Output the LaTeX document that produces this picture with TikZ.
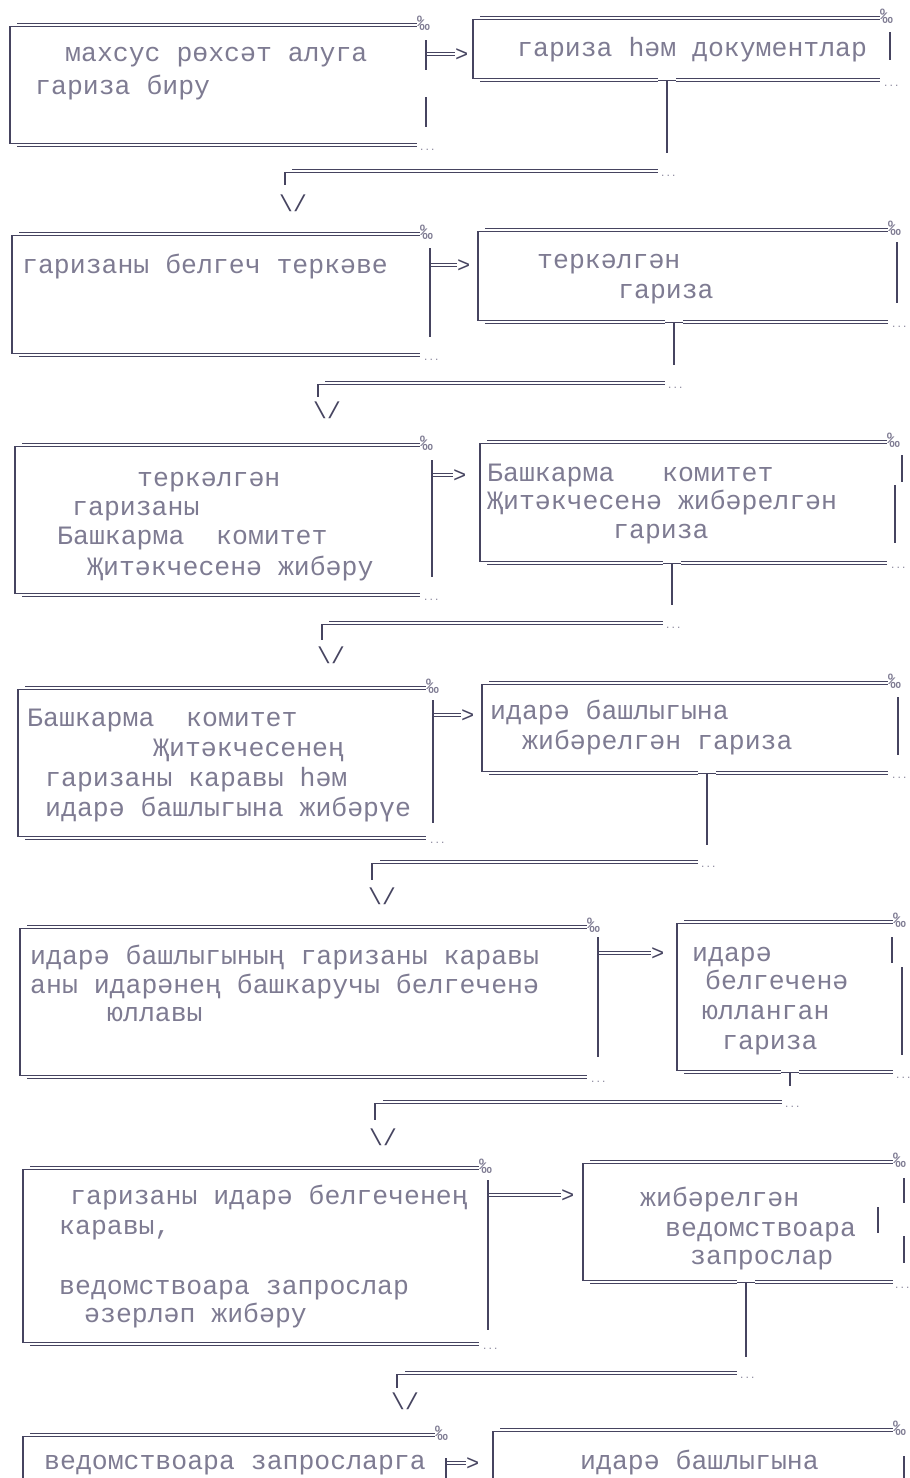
\documentclass[tikz,border=0pt]{standalone}
\usepackage{fontspec}
\newfontfamily\tatmono{Liberation Mono}
\definecolor{lc}{RGB}{70,68,96}
\definecolor{tc}{RGB}{126,123,146}

\begin{document}
\begin{tikzpicture}[x=1pt, y=-1pt,
    twin/.style={draw=lc, line width=1.1pt, double=white, double distance=1.4pt},
    bar/.style={draw=lc, line width=1.2pt},
    txt/.style={anchor=base west, inner sep=0pt, text=tc, font=\tatmono\fontsize{26.5}{30}\selectfont},
    pm/.style={anchor=base west, inner sep=0pt, text=tc, font=\tatmono\fontsize{21}{21}\selectfont},
    dots/.style={anchor=base west, inner sep=0pt, text=tc, font=\tatmono\fontsize{9}{9}\selectfont},
    gt/.style={anchor=base west, inner sep=0pt, text=lc, font=\tatmono\fontsize{22}{22}\selectfont},
    down/.style={anchor=base, inner sep=0pt, text=lc, font=\tatmono\fontsize{23}{23}\selectfont}]

    \useasboundingbox (0,0) rectangle (910,1478);

    % row 1
    \draw[bar] (18,26.5) -| (10,143.5) -- (18,143.5);
    \draw[twin] (17,25) -- (417,25);
    \draw[twin] (17,145) -- (417,145);
    \node[pm] (pmL1) at (417,30) {‰};
    \node[dots] (dtL1) at (419,150) {...};
    \node[txt] (L1a) at (65,61) {махсус рөхсәт алуга};
    \node[txt] (L1b) at (35,94) {гариза биру};
    \draw[bar] (426,40) -- (426,70);
    \draw[bar] (426,97) -- (426,127);
    \coordinate (a1) at (427,54);
    \node[gt] (g1) at (455,61) {>};
    \draw[twin] (a1) -- (a1 -| g1.west);

    \draw[bar] (481,19.5) -| (473,78.5) -- (481,78.5);
    \draw[twin] (480,18) -- (880,18);
    \draw[twin] (480,80) -- (658,80) (676,80) -- (880,80);
    \draw[bar] (658,80.5) -- (676,80.5);
    \node[pm] (pmR1) at (880,23) {‰};
    \node[dots] (dtR1) at (883,86) {...};
    \draw[bar] (890,32) -- (890,60);
    \node[txt] (R1a) at (517,56) {гариза һәм документлар};

    \coordinate (t1) at (667,80.5);
    \coordinate (e1) at (667,153);
    \draw[bar] (t1) -- (e1);
    \coordinate (c1) at (285,185);
    \draw[twin] (292,171) -- (658,171);
    \draw[bar] (292,172.5) -| (c1);
    \node[dots] (dtC1) at (660,176) {...};
    \node[down] (v1) at (293,211) {\textbackslash/};

    % row 2
    \draw[bar] (20,235.5) -| (12,353.5) -- (20,353.5);
    \draw[twin] (19,234) -- (420,234);
    \draw[twin] (19,355) -- (420,355);
    \node[pm] (pmL2) at (420,239) {‰};
    \node[dots] (dtL2) at (423,360) {...};
    \node[txt] (L2a) at (22,273) {гаризаны белгеч теркәве};
    \draw[bar] (430,248) -- (430,337);
    \coordinate (a2) at (431,265);
    \node[gt] (g2) at (457,272) {>};
    \draw[twin] (a2) -- (a2 -| g2.west);

    \draw[bar] (486,231.5) -| (478,320.5) -- (486,320.5);
    \draw[twin] (485,230) -- (888,230);
    \draw[twin] (485,322) -- (665,322) (683,322) -- (888,322);
    \draw[bar] (665,322.5) -- (683,322.5);
    \node[pm] (pmR2) at (888,235) {‰};
    \node[dots] (dtR2) at (891,327) {...};
    \draw[bar] (897,242) -- (897,303);
    \node[txt] (R2a) at (537,268) {теркәлгән};
    \node[txt] (R2b) at (618,298) {гариза};

    \coordinate (t2) at (674,322.5);
    \coordinate (e2) at (674,365);
    \draw[bar] (t2) -- (e2);
    \coordinate (c2) at (318,397);
    \draw[twin] (325,383) -- (665,383);
    \draw[bar] (325,384.5) -| (c2);
    \node[dots] (dtC2) at (667,388) {...};
    \node[down] (v2) at (327,418) {\textbackslash/};

    % row 3
    \draw[bar] (23,446.5) -| (15,593.5) -- (23,593.5);
    \draw[twin] (22,445) -- (420,445);
    \draw[twin] (22,595) -- (420,595);
    \node[pm] (pmL3) at (420,450) {‰};
    \node[dots] (dtL3) at (423,600) {...};
    \node[txt] (L3a) at (137,486) {теркәлгән};
    \node[txt] (L3b) at (72,515) {гаризаны};
    \node[txt] (L3c) at (57,544) {Башкарма\ \ комитет};
    \node[txt] (L3d) at (87,575) {Җитәкчесенә жибәру};
    \draw[bar] (432,460) -- (432,577);
    \coordinate (a3) at (433,475);
    \node[gt] (g3) at (453,482) {>};
    \draw[twin] (a3) -- (a3 -| g3.west);

    \draw[bar] (488,443.5) -| (480,561.5) -- (488,561.5);
    \draw[twin] (487,442) -- (887,442);
    \draw[twin] (487,563) -- (663,563) (681,563) -- (887,563);
    \draw[bar] (663,563.5) -- (681,563.5);
    \node[pm] (pmR3) at (887,447) {‰};
    \node[dots] (dtR3) at (890,568) {...};
    \draw[bar] (902,455) -- (902,482);
    \draw[bar] (895,485) -- (895,543);
    \node[txt] (R3a) at (487,481) {Башкарма\ \ \ комитет};
    \node[txt] (R3b) at (487,509) {Җитәкчесенә жибәрелгән};
    \node[txt] (R3c) at (613,538) {гариза};

    \coordinate (t3) at (672,563.5);
    \coordinate (e3) at (672,605);
    \draw[bar] (t3) -- (e3);
    \coordinate (c3) at (322,640);
    \draw[twin] (329,623) -- (663,623);
    \draw[bar] (329,624.5) -| (c3);
    \node[dots] (dtC3) at (665,628) {...};
    \node[down] (v3) at (331,663) {\textbackslash/};

    % row 4
    \draw[bar] (26,689.5) -| (18,836.5) -- (26,836.5);
    \draw[twin] (25,688) -- (426,688);
    \draw[twin] (25,838) -- (426,838);
    \node[pm] (pmL4) at (426,693) {‰};
    \node[dots] (dtL4) at (429,843) {...};
    \node[txt] (L4a) at (27,726) {Башкарма\ \ комитет};
    \node[txt] (L4b) at (153,756) {Җитәкчесенең};
    \node[txt] (L4c) at (45,786) {гаризаны каравы һәм};
    \node[txt] (L4d) at (45,816) {идарә башлыгына жибәрүе};
    \draw[bar] (433,700) -- (433,823);
    \coordinate (a4) at (434,715);
    \node[gt] (g4) at (461,722) {>};
    \draw[twin] (a4) -- (a4 -| g4.west);

    \draw[bar] (490,684.5) -| (482,771.5) -- (490,771.5);
    \draw[twin] (489,683) -- (888,683);
    \draw[twin] (489,773) -- (698,773) (716,773) -- (888,773);
    \draw[bar] (698,773.5) -- (716,773.5);
    \node[pm] (pmR4) at (888,688) {‰};
    \node[dots] (dtR4) at (891,778) {...};
    \draw[bar] (898,697) -- (898,755);
    \node[txt] (R4a) at (490,719) {идарә башлыгына};
    \node[txt] (R4b) at (522,749) {жибәрелгән гариза};

    \coordinate (t4) at (707,773.5);
    \coordinate (e4) at (707,845);
    \draw[bar] (t4) -- (e4);
    \coordinate (c4) at (372,880);
    \draw[twin] (380,862) -- (698,862);
    \draw[bar] (380,863.5) -| (c4);
    \node[dots] (dtC4) at (700,867) {...};
    \node[down] (v4) at (382,904) {\textbackslash/};

    % row 5
    \draw[bar] (28,928.5) -| (20,1075.5) -- (28,1075.5);
    \draw[twin] (27,927) -- (587,927);
    \draw[twin] (27,1077) -- (587,1077);
    \node[pm] (pmL5) at (587,932) {‰};
    \node[dots] (dtL5) at (590,1082) {...};
    \node[txt] (L5a) at (30,964) {идарә башлыгының гаризаны каравы};
    \node[txt] (L5b) at (30,993) {аны идарәнең башкаручы белгеченә};
    \node[txt] (L5c) at (107,1021) {юллавы};
    \draw[bar] (598,937) -- (598,1057);
    \coordinate (a5) at (599,953);
    \node[gt] (g5) at (651,960) {>};
    \draw[twin] (a5) -- (a5 -| g5.west);

    \draw[bar] (685,923.5) -| (677,1070.5) -- (685,1070.5);
    \draw[twin] (684,922) -- (893,922);
    \draw[twin] (684,1072) -- (781,1072) (799,1072) -- (893,1072);
    \draw[bar] (781,1072.5) -- (799,1072.5);
    \node[pm] (pmR5) at (893,927) {‰};
    \node[dots] (dtR5) at (895,1078) {...};
    \draw[bar] (892,937) -- (892,963);
    \draw[bar] (902,967) -- (902,1055);
    \node[txt] (R5a) at (692,961) {идарә};
    \node[txt] (R5b) at (705,989) {белгеченә};
    \node[txt] (R5c) at (702,1019) {юлланган};
    \node[txt] (R5d) at (722,1049) {гариза};

    \coordinate (t5) at (790,1072.5);
    \coordinate (e5) at (790,1086);
    \draw[bar] (t5) -- (e5);
    \coordinate (c5) at (375,1120);
    \draw[twin] (383,1102) -- (782,1102);
    \draw[bar] (383,1103.5) -| (c5);
    \node[dots] (dtC5) at (784,1107) {...};
    \node[down] (v5) at (383,1145) {\textbackslash/};

    % row 6
    \draw[bar] (31,1169.5) -| (23,1342.5) -- (31,1342.5);
    \draw[twin] (30,1168) -- (479,1168);
    \draw[twin] (30,1344) -- (479,1344);
    \node[pm] (pmL6) at (479,1173) {‰};
    \node[dots] (dtL6) at (482,1349) {...};
    \node[txt] (L6a) at (70,1204) {гаризаны идарә белгеченең};
    \node[txt] (L6b) at (59,1234) {каравы,};
    \node[txt] (L6c) at (59,1294) {ведомствоара запрослар};
    \node[txt] (L6d) at (84,1322) {әзерләп жибәру};
    \draw[bar] (488,1180) -- (488,1330);
    \coordinate (a6) at (489,1195);
    \node[gt] (g6) at (561,1202) {>};
    \draw[twin] (a6) -- (a6 -| g6.west);

    \draw[bar] (591,1163.5) -| (583,1280.5) -- (591,1280.5);
    \draw[twin] (590,1162) -- (893,1162);
    \draw[twin] (590,1282) -- (737,1282) (755,1282) -- (893,1282);
    \draw[bar] (737,1282.5) -- (755,1282.5);
    \node[pm] (pmR6) at (893,1167) {‰};
    \node[dots] (dtR6) at (894,1288) {...};
    \draw[bar] (904,1178) -- (904,1203);
    \draw[bar] (878,1207) -- (878,1233);
    \draw[bar] (904,1236) -- (904,1263);
    \node[txt] (R6a) at (640,1206) {жибәрелгән};
    \node[txt] (R6b) at (665,1236) {ведомствоара};
    \node[txt] (R6c) at (690,1264) {запрослар};

    \coordinate (t6) at (746,1282.5);
    \coordinate (e6) at (746,1357);
    \draw[bar] (t6) -- (e6);
    \coordinate (c6) at (397,1388);
    \draw[twin] (405,1373) -- (737,1373);
    \draw[bar] (405,1374.5) -| (c6);
    \node[dots] (dtC6) at (739,1378) {...};
    \node[down] (v6) at (405,1409) {\textbackslash/};

    % row 7
    \draw[bar] (31,1436.5) -| (23,1478);
    \draw[twin] (30,1435) -- (435,1435);
    \node[pm] (pmL7) at (435,1440) {‰};
    \node[txt] (L7a) at (44,1469) {ведомствоара запросларга};
    \draw[bar] (446,1458) -- (446,1478);
    \coordinate (a7) at (447,1463);
    \node[gt] (g7) at (466,1470) {>};
    \draw[twin] (a7) -- (a7 -| g7.west);

    \draw[bar] (501,1431.5) -| (493,1478);
    \draw[twin] (500,1430) -- (893,1430);
    \node[pm] (pmR7) at (893,1435) {‰};
    \draw[bar] (904,1456) -- (904,1478);
    \node[txt] (R7a) at (580,1469) {идарә башлыгына};

\end{tikzpicture}
\end{document}
